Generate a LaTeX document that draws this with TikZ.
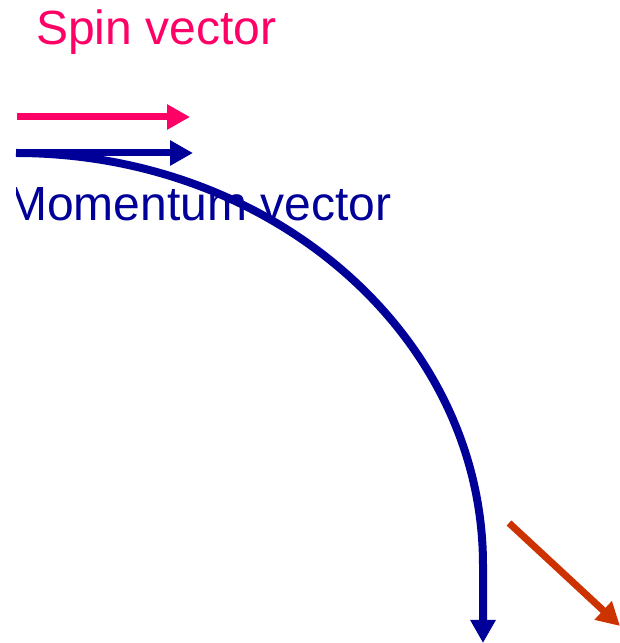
\documentclass[tikz,border=0pt]{standalone}
\usepackage{fontspec}
\setmainfont{Liberation Sans}
\usetikzlibrary{arrows.meta}
\definecolor{spinpink}{RGB}{255,0,102}
\definecolor{momblue}{RGB}{0,0,153}
\definecolor{outorange}{RGB}{204,51,0}
\tikzset{
  lbl/.style={anchor=base west, inner sep=0pt, font=\fontsize{48}{56}\selectfont},
  vecarrow/.style={line width=7pt, -{Triangle[length=23pt,width=24pt]}},
}
\begin{document}
\begin{tikzpicture}[x=1pt,y=1pt]
\useasboundingbox (0,0) rectangle (620,643);
% labels
\node[lbl, text=spinpink] (spinlbl) at (36,598) {Spin vector};
\begin{scope}
  \clip (16,0) rectangle (620,643);
  \node[lbl, text=momblue] (momlbl) at (7,422) {Momentum vector};
\end{scope}
% coordinates
\coordinate (s0) at (17,526);
\coordinate (s1) at (190,526);
\coordinate (m0) at (16,490);
\coordinate (m1) at (193,490);
\coordinate (p1) at (483,0);
\coordinate (o0) at (509,120);
\coordinate (o1) at (620,17);
% arrows
\draw[vecarrow, color=spinpink] (s0) -- (s1);
\draw[vecarrow, color=momblue] (m0) -- (m1);
\draw[line width=8pt, color=momblue, -{Triangle[length=23pt,width=24pt]}]
  (m0) arc[start angle=90, end angle=0, x radius=467pt, y radius=412pt] -- (p1);
\draw[vecarrow, color=outorange] (o0) -- (o1);
\end{tikzpicture}
\end{document}
